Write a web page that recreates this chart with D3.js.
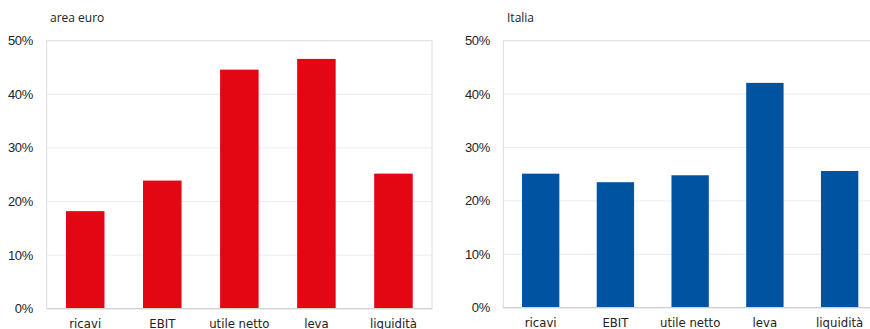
<!DOCTYPE html>
<html><head><meta charset="utf-8">
<script src="https://cdn.jsdelivr.net/npm/d3@7"></script>
<style>
body{margin:0;background:#fff;overflow:hidden}
svg{display:block}
</style></head>
<body>
<script>
const categories = ["ricavi","EBIT","utile netto","leva","liquidità"];
const euroValues = [18.2, 23.9, 44.6, 46.6, 25.2];
const italiaValues = [25.1, 23.5, 24.8, 42.1, 25.6];
const yTicks = [0,10,20,30,40,50];
const panelTitles = ["area euro","Italia"];

const W = 870, H = 329;
const svg = d3.select("body").append("svg").attr("width",W).attr("height",H);

const panels = [
  {title: panelTitles[0], values: euroValues, color:"#e30613", left:46.7, right:432, top:40.7, bottom:308.7, tickX:33, titleX:50},
  {title: panelTitles[1], values: italiaValues, color:"#0053a1", left:503.3, right:877, top:40.7, bottom:307.7, tickX:490, titleX:507}
];

panels.forEach(p=>{
  const g = svg.append("g");
  const x = d3.scaleBand().domain(categories).range([p.left,p.right]).paddingInner(0.5).paddingOuter(0.25);
  const y = d3.scaleLinear().domain([0,50]).range([p.bottom,p.top]);

  // gridlines
  g.selectAll("line.grid").data(yTicks.filter(t=>t>0 && t<50)).enter().append("line")
    .attr("x1",p.left).attr("x2",p.right).attr("y1",d=>y(d)).attr("y2",d=>y(d))
    .attr("stroke","#ebebeb").attr("stroke-width",1);
  // frame
  g.append("rect").attr("x",p.left).attr("y",y(50)).attr("width",p.right-p.left).attr("height",y(0)-y(50))
    .attr("fill","none").attr("stroke","#dcdcdc").attr("stroke-width",1);

  // bars
  g.selectAll("rect.bar").data(p.values).enter().append("rect")
    .attr("x",(d,i)=>x(categories[i])).attr("width",x.bandwidth())
    .attr("y",d=>y(d)).attr("height",d=>y(0)-y(d)).attr("fill",p.color);

  // baseline
  g.append("line").attr("x1",p.left).attr("x2",p.right).attr("y1",y(0)).attr("y2",y(0))
    .attr("stroke","#d0d0d0").attr("stroke-width",1.2);

  // y tick labels
  g.selectAll("text.yt").data(yTicks).enter().append("text")
    .attr("x",p.tickX).attr("y",d=>y(d)).attr("dy","0.35em").attr("text-anchor","end")
    .attr("font-family","Liberation Sans, Arial, sans-serif").attr("font-size",13).attr("letter-spacing","-0.3")
    .attr("fill","#222").text(d=>d+"%");

  // x labels
  g.selectAll("text.xt").data(categories).enter().append("text")
    .attr("x",d=>x(d)+x.bandwidth()/2).attr("y",p.bottom+19.5).attr("text-anchor","middle")
    .attr("font-family","DejaVu Sans Condensed, DejaVu Sans, sans-serif").attr("font-stretch","condensed")
    .attr("font-size",13).attr("fill","#222").text(d=>d);

  // title
  g.append("text").attr("x",p.titleX).attr("y",22).attr("font-family","Open Sans, sans-serif")
    .attr("font-size",12).attr("fill","#222").text(p.title);
});
</script>
</body></html>
